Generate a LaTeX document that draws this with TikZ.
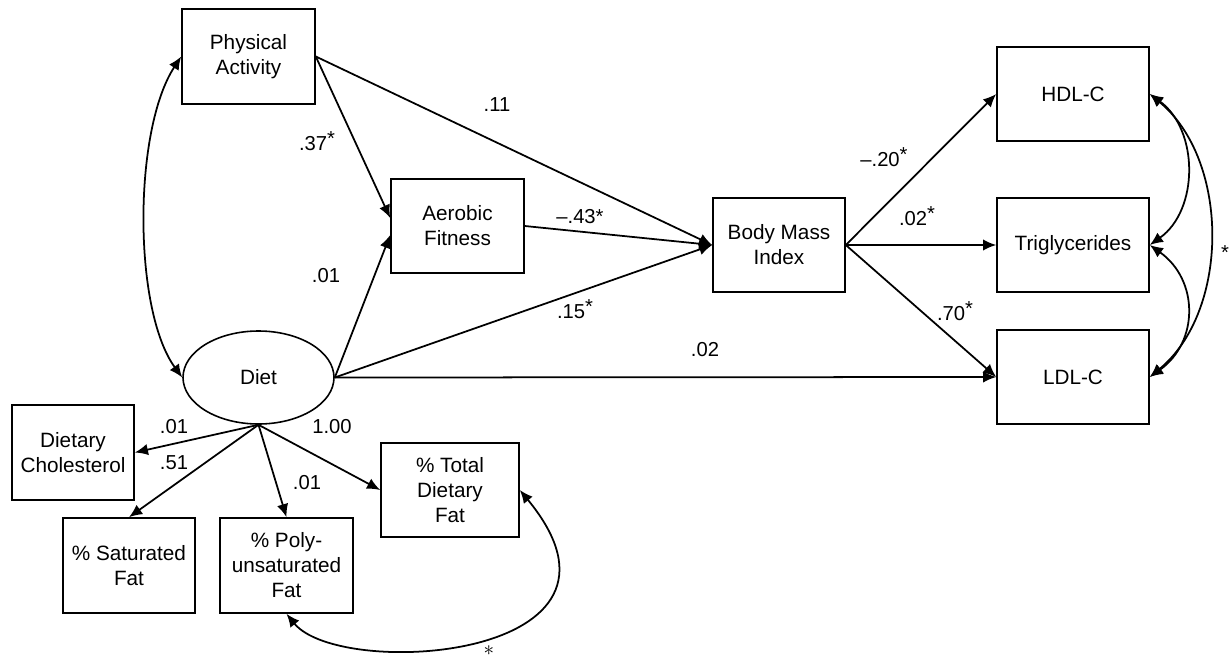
\documentclass[tikz,border=0pt]{standalone}
\usepackage{fontspec}
\setmainfont{Liberation Sans}
\usetikzlibrary{arrows.meta,shapes.geometric}
\newcommand{\sstar}{\raisebox{0.45ex}{*}}
\begin{document}
\begin{tikzpicture}[x=0.02cm,y=-0.02cm,
  every node/.style={font=\fontsize{11.8pt}{14.2pt}\selectfont},
  sz/.style 2 args={minimum width=#1*0.02cm, minimum height=#2*0.02cm},
  vbox/.style={draw, line width=0.9pt, align=center, inner sep=0pt},
  lbl/.style={inner sep=0pt, font=\fontsize{11.5pt}{13pt}\selectfont},
  path/.style={line width=1pt, -{Latex[length=7.5pt,width=6.5pt]}},
  cov/.style={line width=1pt, {Latex[length=7.5pt,width=6.5pt]}-{Latex[length=7.5pt,width=6.5pt]}}
]
\useasboundingbox (0,0) rectangle (1231,656);

% nodes
\node[vbox, sz={133}{95}] (pa) at (248.5,56.5) {Physical\\Activity};
\node[vbox, sz={133}{94}] (af) at (457.5,226) {Aerobic\\Fitness};
\node[vbox, sz={132}{94}] (bmi) at (779,245) {Body Mass\\Index};
\node[vbox, sz={152}{94}] (hdl) at (1073,94) {HDL-C};
\node[vbox, sz={152}{94}] (tri) at (1073,245) {Triglycerides};
\node[vbox, sz={152}{94}] (ldl) at (1073,377) {LDL-C};
\node[draw, line width=0.9pt, ellipse, inner sep=0pt, sz={151}{93}] (diet) at (258.5,377.5) {Diet};
\node[vbox, sz={122}{95}] (chol) at (73,452.5) {Dietary\\Cholesterol};
\node[vbox, sz={132}{95}] (sat) at (129,565.5) {\% Saturated\\Fat};
\node[vbox, sz={133}{95}] (poly) at (286.5,565.5) {\% Poly-\\unsaturated\\Fat};
\node[vbox, sz={138}{94}] (tot) at (450,490) {\% Total\\Dietary\\Fat};

% structural paths
\draw[path] (pa.east) -- ([yshift=0.16cm]af.west);
\draw[path] (diet.east) -- ([yshift=-0.18cm]af.west);
\draw[path] (pa.east) -- (bmi.west);
\draw[path] (af.east) -- (bmi.west);
\draw[path] (diet.east) -- (bmi.west);
\draw[path] (diet.east) -- (ldl.west);
\draw[path] (bmi.east) -- (hdl.west);
\draw[path] (bmi.east) -- (tri.west);
\draw[path] (bmi.east) -- (ldl.west);

% measurement paths
\draw[path] (diet.south) -- (chol.east);
\draw[path] (diet.south) -- (sat.north);
\draw[path] (diet.south) -- (poly.north);
\draw[path] (diet.south) -- (tot.west);

% covariances
\draw[cov] (pa.west) .. controls (133,130) and (133,310) .. (diet.west);
\draw[cov] (hdl.east) .. controls (1199,130) and (1199,210) .. (tri.east);
\draw[cov] (tri.east) .. controls (1199,280) and (1199,342) .. (ldl.east);
\draw[cov] (hdl.east) .. controls (1230,160) and (1230,311) .. (ldl.east);
\draw[cov] (poly.south) .. controls (340,680) and (660,660) .. (tot.east);

% labels
\node[lbl] (l11) at (497,105) {.11};
\node[lbl] (l37) at (317,141) {.37\sstar};
\node[lbl] (l01a) at (326,276) {.01};
\node[lbl] (l43) at (580,217) {\textendash.43*};
\node[lbl] (l15) at (575,309) {.15\sstar};
\node[lbl] (l02) at (705,350) {.02};
\node[lbl] (l20) at (884,157) {\textendash.20\sstar};
\node[lbl] (l02s) at (917,216) {.02\sstar};
\node[lbl] (l70) at (955,311) {.70\sstar};
\node[lbl] (l01b) at (174,427) {.01};
\node[lbl] (l51) at (174,463) {.51};
\node[lbl] (l100) at (332,427) {1.00};
\node[lbl] (l01c) at (307,483) {.01};
\node[lbl] (s1) at (1225,253) {*};
\node[lbl] (s2) at (489,651) {$\ast$};
\end{tikzpicture}
\end{document}
